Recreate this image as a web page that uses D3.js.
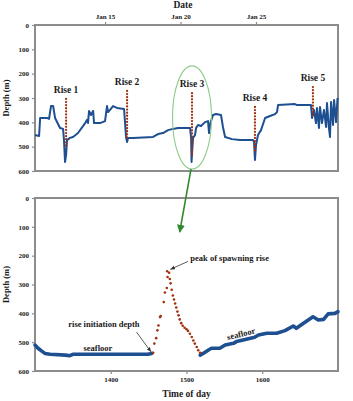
<!DOCTYPE html>
<html>
<head>
<meta charset="utf-8">
<script src="https://cdn.jsdelivr.net/npm/d3@7"></script>
<style>
  body { margin: 0; background: #ffffff; }
  svg { display: block; font-family: "Liberation Serif", "DejaVu Serif", serif; font-weight: bold; }
</style>
</head>
<body>
<div id="chart"></div>
<script>
// ---- data: top panel (depth track over days of January) ----
const dayTicks = [15, 20, 25];
const dayTickLabels = ["Jan 15", "Jan 20", "Jan 25"];
const depthTicks = [0, 100, 200, 300, 400, 500, 600];

const trackTop = [
  [10.36, 452], [10.63, 456], [10.70, 382], [11.16, 382], [11.29, 386], [11.42, 333],
  [11.56, 333], [11.69, 382], [12.02, 423], [12.22, 427], [12.28, 473], [12.35, 563],
  [12.42, 534], [12.48, 473], [12.68, 464], [12.88, 460], [13.21, 444], [13.68, 403],
  [13.81, 390], [13.87, 403], [13.94, 353], [14.07, 370], [14.21, 353], [14.27, 403],
  [14.67, 403], [15.00, 395], [15.13, 333], [15.20, 358], [15.33, 349], [15.53, 333],
  [15.79, 341], [16.26, 345], [16.39, 460], [16.46, 481], [16.52, 464], [16.85, 464],
  [18.18, 460], [18.51, 448], [18.84, 444], [19.17, 432], [19.50, 427], [19.83, 423],
  [20.36, 423], [20.63, 423], [20.70, 464], [20.73, 563], [20.76, 526], [20.83, 464],
  [20.96, 452], [21.03, 423], [21.16, 411], [21.36, 415], [21.62, 399], [21.82, 395],
  [21.89, 444], [21.95, 411], [22.02, 395], [22.15, 370], [22.35, 366], [22.68, 370],
  [22.81, 419], [22.95, 460], [23.41, 469], [23.94, 473], [24.80, 473], [24.87, 481],
  [24.93, 555], [25.00, 493], [25.13, 452], [25.33, 432], [25.60, 382], [25.93, 374],
  [26.26, 366], [26.39, 358], [26.46, 329], [27.58, 325], [27.72, 329], [28.64, 329],
  [28.71, 382], [28.84, 349], [28.97, 403], [29.04, 341], [29.17, 423], [29.24, 337],
  [29.37, 403], [29.50, 349], [29.64, 419], [29.70, 321], [29.83, 423], [29.90, 460],
  [29.97, 316], [30.10, 411], [30.17, 308], [30.30, 399], [30.40, 300]
];

// spawning rises: label, day, shallowest depth, deepest depth
const riseNames = ["Rise 1", "Rise 2", "Rise 3", "Rise 4", "Rise 5"];
const riseDays = [12.42, 16.46, 20.76, 24.93, 28.77];
const riseTops = [304, 271, 280, 337, 255];
const riseBottoms = [501, 473, 547, 522, 382];

// ---- data: bottom panel (rise 3, time of day) ----
const timeTicks = [1400, 1500, 1600];

const seafloorBefore = [
  [1300, 510], [1304, 521], [1309, 531], [1313, 539], [1320, 542], [1340, 545],
  [1346, 547], [1350, 542], [1386, 542], [1449, 542], [1454, 539]
];

const riseDots = [
  [1456, 537], [1457.5, 505], [1460, 486], [1461.5, 459], [1463, 442], [1465, 413],
  [1466, 409], [1470, 361], [1471.5, 328], [1474, 312], [1475, 274], [1474.5, 254],
  [1477, 259], [1478, 281], [1479, 296], [1480.5, 318], [1482, 338], [1483.5, 352],
  [1485, 366], [1486.5, 380], [1488, 394], [1489.5, 407], [1491, 421], [1493, 434],
  [1495, 443], [1497.5, 450], [1500, 455], [1502, 461], [1504.5, 471], [1507, 482],
  [1509, 494], [1511, 505], [1513.5, 517], [1515.5, 528], [1518, 537]
];

const seafloorAfter = [
  [1518, 545], [1522, 539], [1529, 527], [1533, 521], [1544, 521], [1551, 510],
  [1562, 504], [1566, 498], [1579, 490], [1590, 483], [1595, 475], [1606, 469],
  [1619, 469], [1630, 460], [1641, 444], [1645, 452], [1654, 435], [1667, 412],
  [1674, 423], [1681, 421], [1687, 402], [1696, 400], [1700, 394]
];

// ---- styles ----
const blue = "#1d4f91";
const red = "#a3300f";
const frameColor = "#8c8c8c";
const textColor = "#1a1a1a";

const W = 353, H = 401;
const left = 35, plotW = 303;
const top1 = 25, h1 = 146;
const top2 = 198, h2 = 173;

const svg = d3.select("#chart").append("svg")
  .attr("width", W)
  .attr("height", H);

// scales
const xDay = d3.scaleLinear().domain([10.36, 30.43]).range([left, left + plotW]);
const yTop = d3.scaleLinear().domain([0, 600]).range([top1, top1 + h1]);
const xTime = d3.scaleLinear().domain([1300, 1700]).range([left, left + plotW]);
const yBot = d3.scaleLinear().domain([0, 600]).range([top2, top2 + h2]);

// helper to style an axis
function styleAxis(g) {
  g.select(".domain").remove();
  g.selectAll(".tick line").attr("stroke", frameColor).attr("stroke-width", 1.2);
  g.selectAll(".tick text")
    .attr("fill", textColor)
    .style("font-family", "Liberation Serif, serif")
    .style("font-weight", "bold")
    .style("font-size", "7px");
}

// ================= top panel =================
svg.append("g")
  .attr("transform", `translate(0,${top1})`)
  .call(d3.axisTop(xDay).tickValues(dayTicks).tickFormat((d, i) => dayTickLabels[i]).tickSize(3).tickPadding(3))
  .call(styleAxis);

svg.append("g")
  .attr("transform", `translate(${left},0)`)
  .call(d3.axisLeft(yTop).tickValues(depthTicks).tickSize(3).tickPadding(3))
  .call(styleAxis);

svg.append("rect")
  .attr("x", left).attr("y", top1)
  .attr("width", plotW).attr("height", h1)
  .attr("fill", "none")
  .attr("stroke", frameColor)
  .attr("stroke-width", 2);

const lineTop = d3.line().x(d => xDay(d[0])).y(d => yTop(d[1]));

svg.append("path")
  .datum(trackTop)
  .attr("d", lineTop)
  .attr("fill", "none")
  .attr("stroke", blue)
  .attr("stroke-width", 2)
  .attr("stroke-linejoin", "round");

// dotted rise columns
svg.selectAll(".riseDots")
  .data(riseDays)
  .enter().append("line")
  .attr("x1", d => xDay(d))
  .attr("x2", d => xDay(d))
  .attr("y1", (d, i) => yTop(riseTops[i]))
  .attr("y2", (d, i) => yTop(riseBottoms[i]))
  .attr("stroke", red)
  .attr("stroke-width", 2.3)
  .attr("stroke-linecap", "round")
  .attr("stroke-dasharray", "0,3.1");

svg.selectAll(".riseLabel")
  .data(riseNames)
  .enter().append("text")
  .attr("x", (d, i) => xDay(riseDays[i]))
  .attr("y", (d, i) => yTop(riseTops[i]) - 6)
  .attr("text-anchor", "middle")
  .attr("fill", textColor)
  .style("font-size", "9.5px")
  .text(d => d);

// axis titles
svg.append("text")
  .attr("x", 183).attr("y", 8)
  .attr("text-anchor", "middle")
  .attr("fill", textColor)
  .style("font-size", "9.5px")
  .text("Date");

svg.append("text")
  .attr("transform", `translate(9,${top1 + h1 / 2}) rotate(-90)`)
  .attr("text-anchor", "middle")
  .attr("fill", textColor)
  .style("font-size", "8.5px")
  .text("Depth (m)");

// highlight ellipse around rise 3
const ellTop = yTop(168), ellBottom = yTop(592);
svg.append("ellipse")
  .attr("cx", xDay(riseDays[2]))
  .attr("cy", (ellTop + ellBottom) / 2)
  .attr("rx", 19.5)
  .attr("ry", (ellBottom - ellTop) / 2)
  .attr("fill", "none")
  .attr("stroke", "#8fcb8a")
  .attr("stroke-width", 1.1);

// ================= bottom panel =================
svg.append("g")
  .attr("transform", `translate(0,${top2 + h2})`)
  .call(d3.axisBottom(xTime).tickValues(timeTicks).tickFormat(d3.format("d")).tickSize(3).tickPadding(3))
  .call(styleAxis);

svg.append("g")
  .attr("transform", `translate(${left},0)`)
  .call(d3.axisLeft(yBot).tickValues(depthTicks).tickSize(3).tickPadding(3))
  .call(styleAxis);

svg.append("rect")
  .attr("x", left).attr("y", top2)
  .attr("width", plotW).attr("height", h2)
  .attr("fill", "none")
  .attr("stroke", frameColor)
  .attr("stroke-width", 2);

const lineBot = d3.line().x(d => xTime(d[0])).y(d => yBot(d[1]));

[seafloorBefore, seafloorAfter].forEach(series => {
  svg.append("path")
    .datum(series)
    .attr("d", lineBot)
    .attr("fill", "none")
    .attr("stroke", blue)
    .attr("stroke-width", 3.6)
    .attr("stroke-linejoin", "round")
    .attr("stroke-linecap", "round");
});

svg.selectAll(".riseDot")
  .data(riseDots)
  .enter().append("circle")
  .attr("cx", d => xTime(d[0]))
  .attr("cy", d => yBot(d[1]))
  .attr("r", 1.3)
  .attr("fill", red);

svg.append("text")
  .attr("x", xTime(1500)).attr("y", 397)
  .attr("text-anchor", "middle")
  .attr("fill", textColor)
  .style("font-size", "9.5px")
  .text("Time of day");

svg.append("text")
  .attr("transform", `translate(9,${top2 + h2 / 2}) rotate(-90)`)
  .attr("text-anchor", "middle")
  .attr("fill", textColor)
  .style("font-size", "8.5px")
  .text("Depth (m)");

// annotations
const defs = svg.append("defs");
defs.append("marker")
  .attr("id", "blackHead")
  .attr("viewBox", "0 0 10 10")
  .attr("refX", 9).attr("refY", 5)
  .attr("markerWidth", 6).attr("markerHeight", 6)
  .attr("orient", "auto")
  .append("path").attr("d", "M0,1 L10,5 L0,9 z").attr("fill", "#333");
defs.append("marker")
  .attr("id", "greenHead")
  .attr("viewBox", "0 0 10 10")
  .attr("refX", 9).attr("refY", 5)
  .attr("markerWidth", 5).attr("markerHeight", 5)
  .attr("orient", "auto")
  .append("path").attr("d", "M0,0 L10,5 L0,10 z").attr("fill", "#2f8a2a");

// green arrow from ellipse to the bottom panel
svg.append("line")
  .attr("x1", xDay(riseDays[2]) - 1).attr("y1", ellBottom)
  .attr("x2", xTime(1491)).attr("y2", yBot(118))
  .attr("stroke", "#2f8a2a")
  .attr("stroke-width", 1.6)
  .attr("marker-end", "url(#greenHead)");

svg.append("text")
  .attr("x", xTime(1505)).attr("y", yBot(219))
  .attr("fill", textColor)
  .style("font-size", "8.5px")
  .text("peak of spawning rise");

svg.append("line")
  .attr("x1", xTime(1502)).attr("y1", yBot(220))
  .attr("x2", xTime(1479)).attr("y2", yBot(247))
  .attr("stroke", "#333").attr("stroke-width", 0.8)
  .attr("marker-end", "url(#blackHead)");

svg.append("text")
  .attr("x", xTime(1391)).attr("y", yBot(447))
  .attr("text-anchor", "middle")
  .attr("fill", textColor)
  .style("font-size", "8.5px")
  .text("rise initiation depth");

svg.append("line")
  .attr("x1", xTime(1434)).attr("y1", yBot(465))
  .attr("x2", xTime(1453)).attr("y2", yBot(533))
  .attr("stroke", "#333").attr("stroke-width", 0.8)
  .attr("marker-end", "url(#blackHead)");

svg.append("text")
  .attr("x", xTime(1383)).attr("y", yBot(531))
  .attr("text-anchor", "middle")
  .attr("fill", textColor)
  .style("font-size", "8.5px")
  .text("seafloor");

svg.append("text")
  .attr("transform", `translate(${xTime(1573)},${yBot(481)}) rotate(-14)`)
  .attr("text-anchor", "middle")
  .attr("fill", textColor)
  .style("font-size", "8.5px")
  .text("seafloor");
</script>
</body>
</html>
